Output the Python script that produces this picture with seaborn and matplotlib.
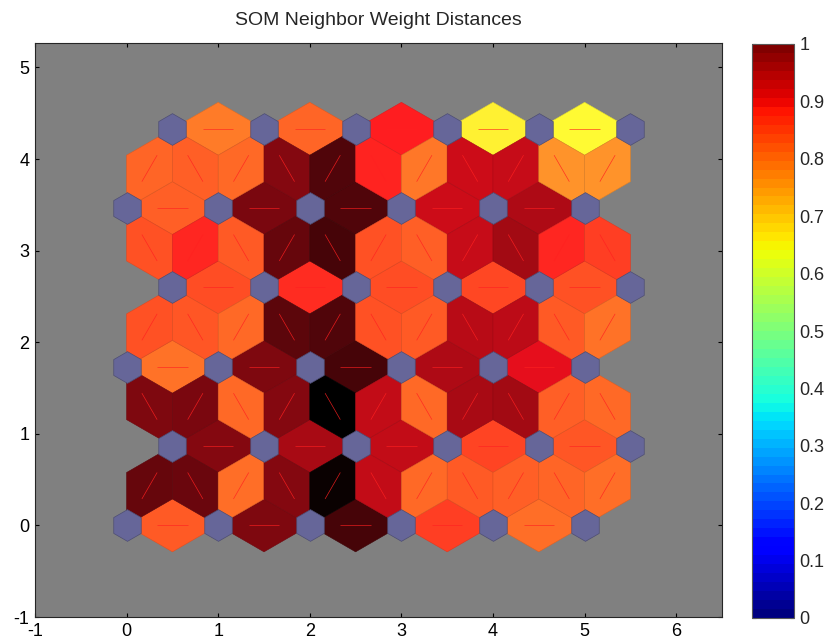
import numpy as np
import pandas as pd
import matplotlib
matplotlib.use("Agg")
import matplotlib.pyplot as plt
from matplotlib.collections import PolyCollection, LineCollection
from matplotlib.colors import LinearSegmentedColormap, Normalize
import seaborn as sns

# SOM layout: 6 x 6 hexagonal grid
GRID_COLS = 6
GRID_ROWS = 6

# Normalized weight distances between horizontal neighbours, one list per row (bottom to top)
horiz_dist = [
    [0.34, 0.75, 0.86, 0.40, 0.30],
    [0.74, 0.67, 0.62, 0.39, 0.35],
    [0.29, 0.75, 0.86, 0.66, 0.55],
    [0.37, 0.44, 0.37, 0.38, 0.36],
    [0.33, 0.76, 0.84, 0.60, 0.66],
    [0.27, 0.32, 0.47, 0.02, 0.00],
]

# Normalized weight distances between diagonal neighbours, one list per pair of rows (left to right)
diag_dist = [
    [0.80, 0.79, 0.30, 0.74, 0.98, 0.62, 0.31, 0.34, 0.33, 0.32, 0.30],
    [0.75, 0.76, 0.31, 0.74, 1.00, 0.62, 0.31, 0.67, 0.68, 0.33, 0.31],
    [0.36, 0.35, 0.31, 0.82, 0.84, 0.36, 0.34, 0.64, 0.63, 0.34, 0.29],
    [0.36, 0.45, 0.34, 0.80, 0.86, 0.36, 0.33, 0.61, 0.68, 0.45, 0.40],
    [0.32, 0.33, 0.31, 0.74, 0.84, 0.46, 0.28, 0.60, 0.61, 0.22, 0.22],
]

x_ticks = [-1, 0, 1, 2, 3, 4, 5, 6]
y_ticks = [-1, 0, 1, 2, 3, 4, 5]
cbar_ticks = [0, 0.1, 0.2, 0.3, 0.4, 0.5, 0.6, 0.7, 0.8, 0.9, 1]
title = "SOM Neighbor Weight Distances"

sns.set_style("ticks")
plt.rcParams["font.family"] = ["Liberation Sans", "DejaVu Sans"]
plt.rcParams["axes.unicode_minus"] = False

ROW_H = np.sqrt(0.75)
HALF_EDGE = np.sqrt(0.75) / 3          # half of the shared side of two neuron cells
NEURON_R = 0.3 * 2 * np.sqrt(0.75) / 3  # neuron marker circumradius


def neuron_xy(col, row):
    return np.array([col + 0.5 * (row % 2), row * ROW_H])


# collect neighbour pairs with their distances
edges = []
for r in range(GRID_ROWS):
    for c in range(GRID_COLS - 1):
        edges.append((neuron_xy(c, r), neuron_xy(c + 1, r), horiz_dist[r][c]))
for r in range(GRID_ROWS - 1):
    off = 0.5 * (r % 2)
    for k, d in enumerate(diag_dist[r]):
        xm = 0.25 + 0.5 * k
        lo = neuron_xy(int(np.round(xm - off)), r)
        hi = np.array([2 * xm - lo[0], (r + 1) * ROW_H])
        edges.append((lo, hi, d))

# distance colours: yellow (close) -> red -> black (far)
dist_cmap = LinearSegmentedColormap.from_list(
    "dist", [(0.0, (1.0, 0.98, 0.2)), (0.5, (1.0, 0.06, 0.12)), (1.0, (0.0, 0.0, 0.0))])

polys, faces, segs = [], [], []
for pi, pj, d in edges:
    m = (pi + pj) / 2
    u = (pj - pi) / np.linalg.norm(pj - pi)
    n = np.array([-u[1], u[0]])
    polys.append([pi, m + n * HALF_EDGE, pj, m - n * HALF_EDGE])
    faces.append(dist_cmap(d))
    segs.append([pi + (pj - pi) / 3, pi + 2 * (pj - pi) / 3])
faces = np.array(faces)
edge_cols = faces.copy()
edge_cols[:, :3] *= 0.88

fig = plt.figure(figsize=(8.29, 6.40), dpi=100)
ax = fig.add_axes([35 / 829, 23 / 640, 687 / 829, 574 / 640])
ax.set_facecolor((0.5, 0.5, 0.5))
xlim = (-1, 6.5)
ax.set_xlim(*xlim)
ax.set_ylim(-1, -1 + 7.5 * 574 / 687)

ax.add_collection(PolyCollection(polys, facecolors=faces, edgecolors=edge_cols,
                                 linewidths=0.4, zorder=1))
ax.add_collection(LineCollection(segs, colors=["#ff2020"] * len(segs),
                                 linewidths=0.5, alpha=0.85, zorder=2))

# neurons
neurons = pd.DataFrame([neuron_xy(c, r) for r in range(GRID_ROWS) for c in range(GRID_COLS)],
                       columns=["x", "y"])
ax_w_in = fig.get_figwidth() * ax.get_position().width
pts_per_unit = ax_w_in * 72 / (xlim[1] - xlim[0])
msize = (2 * NEURON_R * pts_per_unit) ** 2
sns.scatterplot(data=neurons, x="x", y="y", marker="h", s=msize,
                color=(0.4, 0.4, 0.6), edgecolor=(0.3, 0.3, 0.45), linewidth=0.5,
                zorder=3, ax=ax, legend=False)

ax.set_xticks(x_ticks)
ax.set_yticks(y_ticks)
ax.set_xlabel("")
ax.set_ylabel("")
ax.tick_params(direction="in", length=3, width=0.8, top=True, right=True,
               labelsize=13, colors="black", pad=4)
for sp in ax.spines.values():
    sp.set_visible(True)
    sp.set_color((0.15, 0.15, 0.15))
    sp.set_linewidth(0.8)
ax.set_title(title, fontsize=14, pad=13)

# colour bar
cax = fig.add_axes([752 / 829, 22 / 640, 42 / 829, 574 / 640])
jet64 = plt.get_cmap("jet").resampled(64)
sm = plt.cm.ScalarMappable(norm=Normalize(0, 1), cmap=jet64)
cb = fig.colorbar(sm, cax=cax, ticks=cbar_ticks)
cb.ax.set_yticklabels([f"{t:g}" for t in cbar_ticks])
cb.ax.tick_params(direction="in", length=3, width=0.8, left=True, right=True,
                  labelsize=13, pad=4)
cb.outline.set_edgecolor((0.35, 0.35, 0.35))
cb.outline.set_linewidth(0.8)

fig.savefig("out.png", dpi=100)
